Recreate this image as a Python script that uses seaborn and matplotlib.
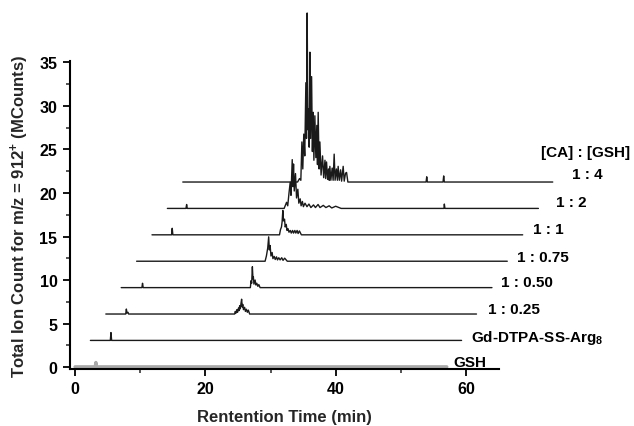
import matplotlib
matplotlib.use("Agg")
import matplotlib.pyplot as plt
from matplotlib.ticker import MultipleLocator
import seaborn as sns
import pandas as pd

# ---------------- data (local retention time in min, intensity above baseline in MCounts) ----------------
samples = ["GSH", "Gd-DTPA-SS-Arg$_8$", "1 : 0.25", "1 : 0.50", "1 : 0.75", "1 : 1", "1 : 2", "1 : 4"]

t_gsh = [0.0, 3.1, 3.2, 3.3, 57.0]
h_gsh = [0.0, 0.0, 0.5, 0.0, 0.0]

t_gd = [0.0, 3.05, 3.15, 3.25, 56.9]
h_gd = [0.0, 0.0, 0.9, 0.0, 0.0]

t_025 = [0.0, 3.05, 3.15, 3.25, 3.4, 3.5, 19.75, 19.85, 19.95, 20.1, 20.2, 20.35, 20.45, 20.52, 20.62,
         20.72, 20.82, 20.92, 21.0, 21.1, 21.28, 21.4, 21.55, 21.7, 21.85, 22.05, 56.83]
h_025 = [0.0, 0.0, 0.57, 0.1, 0.2, 0.0, 0.0, 0.3, 0.1, 0.5, 0.2, 0.7, 0.4, 0.95, 0.6,
         1.2, 1.7, 0.8, 1.1, 0.5, 0.77, 0.3, 0.55, 0.2, 0.45, 0.0, 0.0]

t_050 = [0.0, 3.17, 3.27, 3.37, 19.8, 19.91, 20.0, 20.11, 20.2, 20.26, 20.35, 20.53, 20.65, 20.79,
         20.95, 21.1, 21.29, 56.84]
h_050 = [0.0, 0.0, 0.5, 0.0, 0.0, 0.8, 0.5, 2.4, 1.0, 1.25, 0.4, 0.87, 0.3, 0.5,
         0.15, 0.35, 0.0, 0.0]

t_075 = [0.0, 19.7, 19.9, 20.1, 20.25, 20.35, 20.47, 20.6, 20.78, 20.9, 21.1, 21.25, 21.45, 21.6,
         21.8, 22.0, 22.25, 22.45, 22.7, 23.1, 56.83]
h_075 = [0.0, 0.0, 0.6, 1.5, 2.8, 1.3, 1.8, 0.6, 1.0, 0.3, 0.55, 0.2, 0.5, 0.15,
         0.4, 0.15, 0.4, 0.1, 0.35, 0.0, 0.0]

t_1 = [0.0, 3.0, 3.1, 3.2, 19.55, 19.7, 19.85, 19.95, 20.06, 20.15, 20.32, 20.42, 20.58, 20.7,
       20.86, 21.0, 21.2, 21.35, 21.55, 21.7, 21.9, 22.05, 22.25, 22.4, 22.6, 22.9, 56.83]
h_1 = [0.0, 0.0, 0.75, 0.0, 0.0, 0.6, 0.9, 1.5, 2.8, 1.6, 1.8, 0.9, 1.2, 0.5,
       0.7, 0.3, 0.5, 0.2, 0.5, 0.2, 0.5, 0.2, 0.5, 0.15, 0.45, 0.0, 0.0]

t_2 = [0.0, 2.85, 2.95, 3.05, 17.9, 18.27, 18.45, 18.65, 18.83, 18.95, 19.14, 19.24, 19.34, 19.45,
       19.64, 19.8, 20.0, 20.15, 20.36, 20.5, 20.7, 20.85, 21.1, 21.4, 21.7, 22.0, 22.4, 22.7,
       23.1, 23.4, 23.9, 24.3, 24.8, 25.2, 25.8, 26.64, 42.4, 42.46, 42.55, 56.88]
h_2 = [0.0, 0.0, 0.45, 0.0, 0.0, 0.7, 0.3, 1.8, 3.0, 1.5, 5.6, 2.5, 5.1, 2.0,
       4.0, 1.2, 2.2, 0.6, 1.1, 0.3, 0.8, 0.2, 0.6, 0.2, 0.5, 0.1, 0.4, 0.1,
       0.45, 0.1, 0.35, 0.1, 0.3, 0.05, 0.25, 0.0, 0.0, 0.5, 0.0, 0.0]

t_4 = [0.0, 17.6, 17.9, 18.1, 18.26, 18.4, 18.55, 18.7, 18.87, 18.97, 19.07, 19.18, 19.29, 19.38,
       19.49, 19.6, 19.75, 19.87, 19.99, 20.1, 20.25, 20.4, 20.55, 20.65, 20.76, 20.9, 21.02,
       21.2, 21.43, 21.6, 21.8, 21.9, 22.04, 22.2, 22.35, 22.45, 22.55, 22.7, 22.9, 23.05,
       23.21, 23.35, 23.55, 23.7, 23.82, 24.0, 24.2, 24.35, 24.59, 24.75, 24.95, 25.11, 25.31,
       37.3, 37.4, 37.5, 39.9, 40.0, 40.1, 56.72]
h_4 = [0.0, 0.0, 0.4, 0.2, 4.6, 1.5, 5.5, 3.0, 11.4, 5.0, 19.4, 6.0, 8.4, 4.0,
       14.9, 5.0, 12.1, 3.5, 8.0, 2.5, 7.6, 2.8, 6.5, 2.0, 8.0, 1.5, 4.6,
       0.8, 3.0, 0.5, 2.5, 0.4, 2.3, 0.3, 1.5, 0.2, 1.8, 0.2, 1.6, 0.2,
       3.2, 0.2, 1.5, 0.2, 1.8, 0.2, 1.4, 0.1, 1.8, 0.1, 1.0, 1.1, 0.0,
       0.0, 0.6, 0.0, 0.0, 0.7, 0.0, 0.0]

times = [t_gsh, t_gd, t_025, t_050, t_075, t_1, t_2, t_4]
heights = [h_gsh, h_gd, h_025, h_050, h_075, h_1, h_2, h_4]

header_label = "[CA] : [GSH]"
x_ticks = [0, 20, 40, 60]
y_ticks = [0, 5, 10, 15, 20, 25, 30, 35]

# ---------------- layout / style ----------------
DX, DY, Y0 = 2.36, 3.03, 0.05
label_pos = [(58.06, 0.61), (60.66, 3.48), (63.27, 6.69), (65.26, 9.82),
             (67.71, 12.66), (70.16, 15.87), (73.68, 18.94), (76.13, 22.18)]
header_pos = (71.49, 24.71)

rows = []
for i, (name, ts, hs) in enumerate(zip(samples, times, heights)):
    for t, h in zip(ts, hs):
        rows.append({"sample": name, "idx": i, "t": t, "h": h,
                     "x": t + i * DX, "y": h + Y0 + i * DY})
df = pd.DataFrame(rows)

sns.set_theme(style="ticks")
plt.rcParams["font.family"] = ["Liberation Sans", "DejaVu Sans"]
plt.rcParams["font.weight"] = "bold"
plt.rcParams["mathtext.fontset"] = "custom"
plt.rcParams["mathtext.rm"] = "Liberation Sans:bold"
plt.rcParams["mathtext.bf"] = "Liberation Sans:bold"
plt.rcParams["mathtext.default"] = "bf"

fig = plt.figure(figsize=(6.34, 4.27), dpi=100)
ax = fig.add_axes([70 / 634, 1 - 370 / 427, (499 - 70) / 634, (370 - 62) / 427])

for i, name in enumerate(samples):
    sub = df[df["idx"] == i]
    if i == 0:
        color, lw = "#a8a8a8", 2.4
    else:
        color, lw = "#1a1a1a", 1.0
    sns.lineplot(data=sub, x="x", y="y", ax=ax, color=color, linewidth=lw,
                 estimator=None, sort=False, legend=False, clip_on=False)
    lx, ly = label_pos[i]
    ax.text(lx, ly, name, fontsize=11, fontweight="bold", ha="left", va="center",
            clip_on=False, color="black")

ax.text(header_pos[0], header_pos[1], header_label, fontsize=11, fontweight="bold",
        ha="left", va="center", clip_on=False, color="black")

ax.set_xlim(-0.77, 65.0)
ax.set_ylim(-0.2, 35.15)
ax.set_xticks(x_ticks)
ax.set_yticks(y_ticks)
ax.xaxis.set_minor_locator(MultipleLocator(10))
ax.yaxis.set_minor_locator(MultipleLocator(2.5))
ax.tick_params(axis="both", which="major", direction="out", length=5, width=1.3,
               labelsize=11.5, pad=4, colors="black")
ax.tick_params(axis="both", which="minor", direction="out", length=3, width=1.1)
for lab in ax.get_xticklabels() + ax.get_yticklabels():
    lab.set_fontweight("bold")

ax.set_xlabel("Rentention Time (min)", fontsize=12, fontweight="bold", labelpad=9)
ax.set_ylabel("Total Ion Count for m/z = 912$^{\\mathbf{+}}$ (MCounts)", fontsize=12,
              fontweight="bold", labelpad=6)

sns.despine(ax=ax)
ax.spines["left"].set_linewidth(1.5)
ax.spines["bottom"].set_linewidth(1.5)
ax.spines["left"].set_color("black")
ax.spines["bottom"].set_color("black")

fig.savefig("out.png", dpi=100)
